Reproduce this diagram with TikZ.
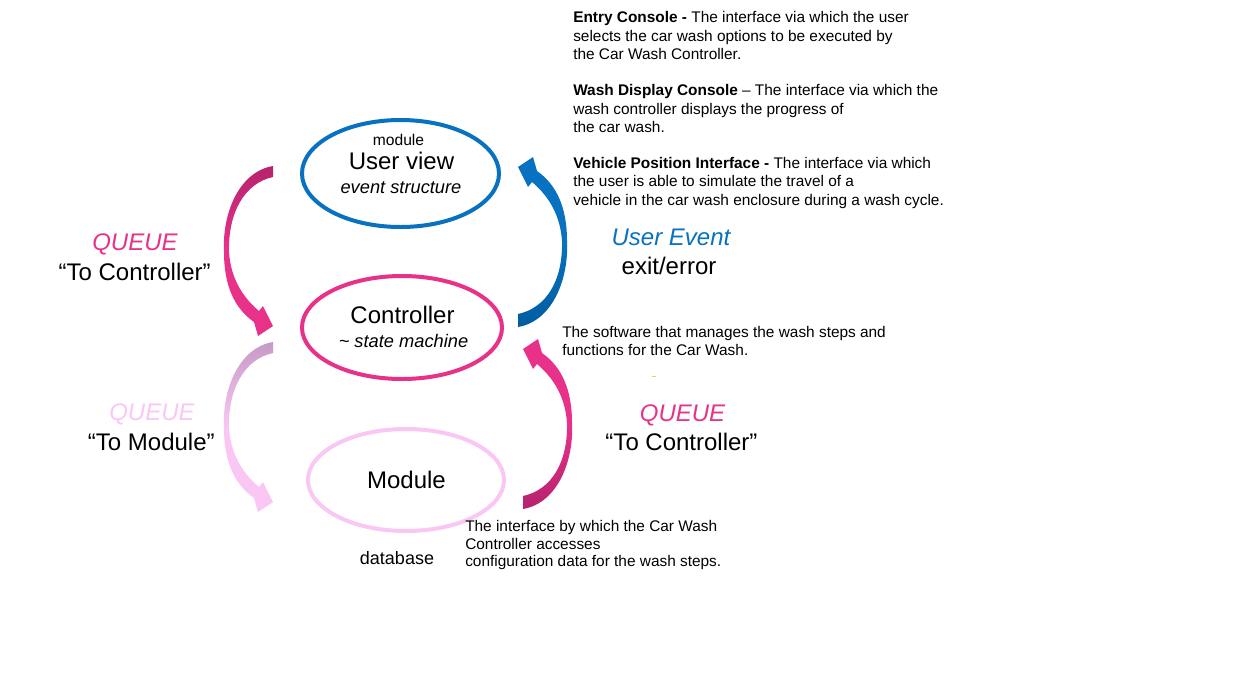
\documentclass[tikz,border=0pt]{standalone}
\usepackage{fontspec}
\setmainfont{Liberation Sans}
\usetikzlibrary{shapes.geometric}
\definecolor{cblue}{RGB}{8,114,192}
\definecolor{cblued}{RGB}{0,92,160}
\definecolor{cpink}{RGB}{232,50,138}
\definecolor{cpinkd}{RGB}{182,34,110}
\definecolor{clight}{RGB}{250,199,245}
\definecolor{cmauve}{RGB}{198,154,198}
\definecolor{corange}{RGB}{245,195,130}
\begin{document}
\begin{tikzpicture}[x=0.75pt,y=-0.75pt,
  big/.style={font=\fontsize{18}{21}\selectfont, inner sep=0, anchor=base},
  mid/.style={font=\fontsize{13.7}{16}\selectfont\itshape, inner sep=0, anchor=base},
  desc/.style={font=\fontsize{11.55}{13.9}\selectfont, inner sep=0, anchor=base west},
  oval/.style={ellipse, line width=3pt, inner sep=0}]
\useasboundingbox[fill=white] (0,0) rectangle (1250,690);

% ellipses
\node[oval, draw=cblue, minimum width=147.75pt, minimum height=80.25pt] (uv) at (400.5,173.5) {};
\node[oval, draw=cpink, minimum width=150pt, minimum height=77.25pt] (ctl) at (402,327.5) {};
\node[oval, draw=clight, minimum width=147pt, minimum height=76.5pt] (mod) at (406,480) {};

% ellipse texts
\node[inner sep=0, anchor=base, font=\fontsize{11.7}{14}\selectfont] (uvm) at (398.5,145) {module};
\node[big] (uvt) at (401.5,169.5) {User view};
\node[mid] (uvs) at (401,193) {event structure};
\node[big] (ctlt) at (402.5,323.5) {Controller};
\node[mid] (ctls) at (403.5,347) {\char`\~{} state machine};
\node[big] (modt) at (406.5,488.5) {Module};
\node[inner sep=0, anchor=base, font=\fontsize{13.5}{16}\selectfont] (modd) at (397,564.5) {database};

% left top pink arrow (to controller)
\shade[top color=cpinkd, bottom color=cpink, middle color=cpink]
  (273,166) .. controls (238,172) and (222,215) .. (224,252)
  .. controls (224,285) and (234,308) .. (254,322)
  -- (258,336) -- (273,326) -- (263,306) -- (259,311)
  .. controls (246,300) and (231,282) .. (229,252)
  .. controls (228,212) and (245,183) .. (273,177) -- cycle;

% left bottom light arrow (to module)
\begin{scope}[shift={(0,176)}]
\shade[top color=cmauve, bottom color=clight, middle color=clight]
  (273,166) .. controls (238,172) and (222,215) .. (224,252)
  .. controls (224,285) and (234,308) .. (254,322)
  -- (258,336) -- (273,326) -- (263,306) -- (259,311)
  .. controls (246,300) and (231,282) .. (229,252)
  .. controls (228,212) and (245,183) .. (273,177) -- cycle;
\end{scope}

% right top blue arrow (user event)
\shade[top color=cblue, bottom color=cblued, middle color=cblue]
  (518,327) .. controls (553,321) and (569,278) .. (567,241)
  .. controls (567,208) and (557,185) .. (537,171)
  -- (533,157) -- (518,167) -- (528,187) -- (532,182)
  .. controls (545,193) and (560,211) .. (562,241)
  .. controls (563,281) and (546,308) .. (518,314) -- cycle;

% right bottom pink arrow (to controller)
\begin{scope}[shift={(5,182)}]
\shade[top color=cpink, bottom color=cpinkd, middle color=cpink]
  (518,327) .. controls (553,321) and (569,278) .. (567,241)
  .. controls (567,208) and (557,185) .. (537,171)
  -- (533,157) -- (518,167) -- (528,187) -- (532,182)
  .. controls (545,193) and (560,211) .. (562,241)
  .. controls (563,281) and (546,308) .. (518,314) -- cycle;
\end{scope}

% arrow labels
\node[big, text=cpink, font=\fontsize{18}{21}\selectfont\itshape] (q1) at (135,250) {QUEUE};
\node[big] (q1t) at (134.7,280) {“To Controller”};
\node[big, text=clight, font=\fontsize{18}{21}\selectfont\itshape] (q2) at (152,420) {QUEUE};
\node[big] (q2t) at (151.3,450) {“To Module”};
\node[big, text=cblue, font=\fontsize{18}{21}\selectfont\itshape] (ue) at (671,245) {User Event};
\node[big] (uet) at (669,274.3) {exit/error};
\node[big, text=cpink, font=\fontsize{18}{21}\selectfont\itshape] (q3) at (682.5,421) {QUEUE};
\node[big] (q3t) at (681.5,450) {“To Controller”};

% descriptions
\node[desc] (ec1) at (573,22.6) {\textbf{Entry Console -} The interface via which the user};
\node[desc] (ec2) at (573,41.3) {selects the car wash options to be executed by};
\node[desc] (ec3) at (573,59.5) {the Car Wash Controller.};
\node[desc] (wd1) at (573,95.6) {\textbf{Wash Display Console} – The interface via which the};
\node[desc] (wd2) at (573,114.2) {wash controller displays the progress of};
\node[desc] (wd3) at (573,132) {the car wash.};
\node[desc] (vp1) at (573,168.4) {\textbf{Vehicle Position Interface -} The interface via which};
\node[desc] (vp2) at (573,186.8) {the user is able to simulate the travel of a};
\node[desc] (vp3) at (573,205) {vehicle in the car wash enclosure during a wash cycle.};
\node[desc] (sw1) at (562,337.3) {The software that manages the wash steps and};
\node[desc] (sw2) at (562,355) {functions for the Car Wash.};
\node[desc] (if1) at (465,531.5) {The interface by which the Car Wash};
\node[desc] (if2) at (465,549.3) {Controller accesses};
\node[desc] (if3) at (465,566.7) {configuration data for the wash steps.};

% small stray mark
\coordinate (m1) at (651.5,376);
\coordinate (m2) at (655.5,376);
\draw[corange, line width=0.75pt] (m1) -- (m2);
\end{tikzpicture}
\end{document}
